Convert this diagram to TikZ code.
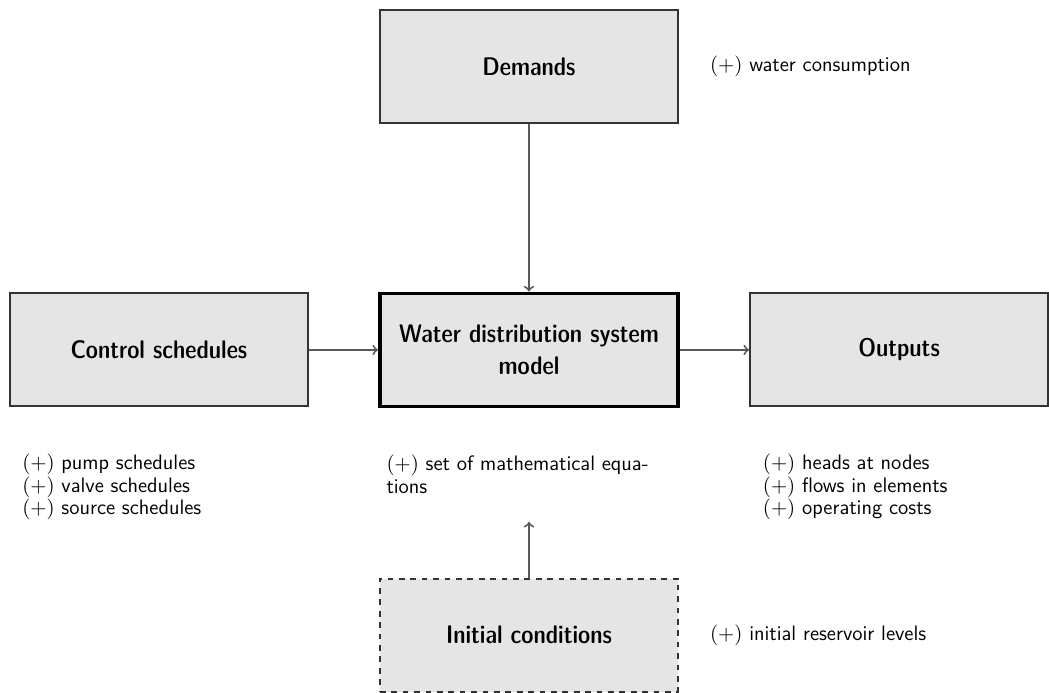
\documentclass[tikz,border=0pt]{standalone}
\usetikzlibrary{positioning}
\begin{document}
\begin{tikzpicture}[
        font=\sffamily\fontsize{11}{11.7}\selectfont,
        boxNode/.style={rectangle, draw=black!80, line width=1pt, fill=gray!20, minimum width=5.51cm, minimum height=2.09cm, inner sep=0pt, align=center, font=\sffamily\fontsize{13.4}{17}\fontseries{sbc}\selectfont},
        modelNode/.style={boxNode, draw=black, line width=2pt},
        dashedNode/.style={boxNode, dashed},
        noteNode/.style={align=left, inner sep=0pt},
        flowArrow/.style={->, draw=black!65, line width=1pt}
    ]
        % Boxes
        \node[modelNode] (model) {Water distribution system\\model};
        \node[boxNode, left=1.28cm of model] (control) {Control schedules};
        \node[boxNode, right=1.28cm of model] (outputs) {Outputs};
        \node[boxNode, above=3.1cm of model] (demands) {Demands};
        \node[dashedNode, below=3.13cm of model] (initial) {Initial conditions};

        % Frame of the page
        \useasboundingbox ([shift={(-9.78,-6.22)}]model.center) rectangle ([shift={(9.43,6.47)}]model.center);

        % Notes
        \node[noteNode, right=0.57cm of demands.east] (demandsNote) {$(+)$ water consumption};
        \node[noteNode, right=0.57cm of initial.east] (initialNote) {$(+)$ initial reservoir levels};
        \node[noteNode, below=0.86cm of control.south west, anchor=north west, xshift=0.24cm] (controlNote)
            {$(+)$ pump schedules\\ $(+)$ valve schedules\\ $(+)$ source schedules};
        \node[noteNode, below=0.86cm of model.south west, anchor=north west, xshift=0.15cm] (modelNote)
            {$(+)$ set of mathematical equa-\\tions};
        \node[noteNode, below=0.86cm of outputs.south west, anchor=north west, xshift=0.25cm] (outputsNote)
            {$(+)$ heads at nodes\\ $(+)$ flows in elements\\ $(+)$ operating costs};

        % Edges
        \coordinate[above=1.03cm of initial.north] (initialTip);
        \draw[flowArrow] (demands) -- (model);
        \draw[flowArrow] (control) -- (model);
        \draw[flowArrow] (model) -- (outputs);
        \draw[flowArrow] (initial) -- (initialTip);
    \end{tikzpicture}
\end{document}
